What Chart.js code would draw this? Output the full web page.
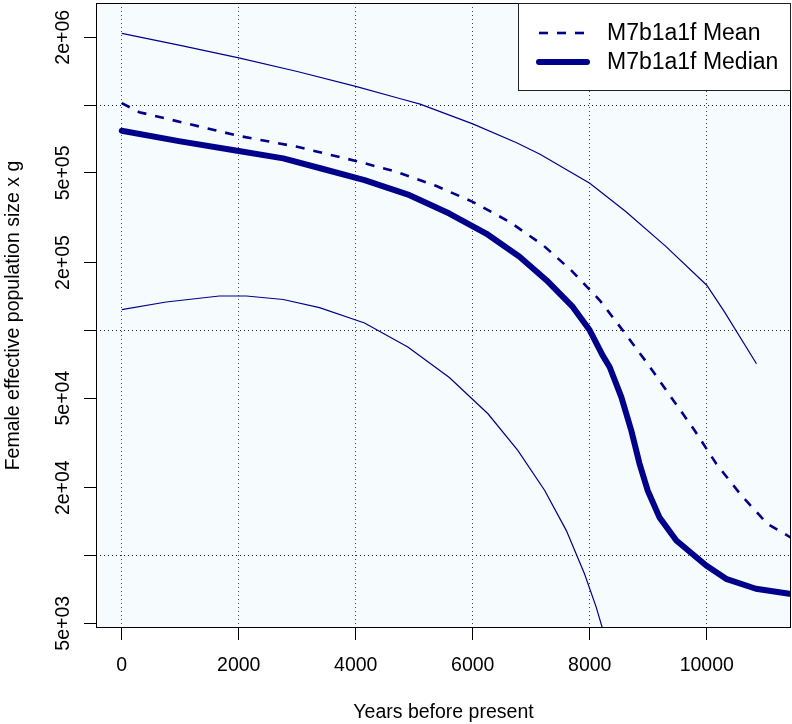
<!DOCTYPE html>
<html>
<head>
<meta charset="utf-8">
<script src="https://cdn.jsdelivr.net/npm/chart.js@4.4.1/dist/chart.umd.min.js"></script>
<style>
  html, body { margin: 0; padding: 0; background: #fff; }
  #c { display: block; }
</style>
</head>
<body>
<canvas id="c" width="792" height="724"></canvas>
<script>
// years before present / female Ne x g
const upperYears  = [0, 1000, 2000, 3000, 4000, 4750, 5100, 6000, 6750, 7150, 8000, 8620, 9300, 10000, 10300, 10850]
const upperNe     = [2.08e6, 1.84e6, 1.62e6, 1.41e6, 1.21e6, 1.07e6, 1.01e6, 8.25e5, 6.8e5, 6.05e5, 4.5e5, 3.36e5, 2.36e5, 1.585e5, 1.21e5, 7.1e4]

const lowerYears  = [0, 760, 1670, 2130, 2760, 3380, 4150, 4890, 5600, 6260, 6770, 7230, 7600, 7910, 8110, 8220, 8300]
const lowerNe     = [1.236e5, 1.336e5, 1.42e5, 1.42e5, 1.37e5, 1.26e5, 1.078e5, 8.43e4, 6.17e4, 4.26e4, 2.93e4, 1.945e4, 1.29e4, 8.3e3, 5.9e3, 4.72e3, 4.2e3]

const meanYears   = [0, 300, 2000, 3000, 4000, 4700, 5380, 6000, 6630, 7200, 7680, 8170, 8590, 8990, 9390, 9790, 10160, 10590, 11040, 11440]
const meanNe      = [1.02e6, 9.3e5, 7.3e5, 6.53e5, 5.65e5, 5.05e5, 4.37e5, 3.72e5, 3.03e5, 2.39e5, 1.85e5, 1.36e5, 9.8e4, 7.1e4, 5.05e4, 3.6e4, 2.56e4, 1.85e4, 1.38e4, 1.2e4]

const medianYears = [0, 1000, 2000, 2760, 3410, 4150, 4920, 5600, 6230, 6800, 7260, 7710, 8000, 8220, 8340, 8540, 8710, 8850, 8990, 9190, 9480, 9990, 10330, 10840, 11410]
const medianNe    = [7.69e5, 6.9e5, 6.25e5, 5.8e5, 5.23e5, 4.64e5, 3.98e5, 3.3e5, 2.69e5, 2.12e5, 1.67e5, 1.27e5, 1.0e5, 7.74e4, 6.87e4, 5.05e4, 3.59e4, 2.56e4, 1.945e4, 1.48e4, 1.166e4, 9.03e3, 7.88e3, 7.12e3, 6.76e3]

const xTicks  = [0, 2000, 4000, 6000, 8000, 10000]
const yTicks  = [5e3, 1e4, 2e4, 5e4, 1e5, 2e5, 5e5, 1e6, 2e6]
const yLabels = ['5e+03', '', '2e+04', '5e+04', '', '2e+05', '5e+05', '', '2e+06']
const legendLabels = ['M7b1a1f Mean', 'M7b1a1f Median']

const BLUE = '#00008b'
const FONT = "'Liberation Sans', Arial, Helvetica, sans-serif"

const pts = (xs, ys) => xs.map((x, i) => ({ x, y: ys[i] }))
const isDecade = v => Math.abs(Math.log10(v) - Math.round(Math.log10(v))) < 1e-9

const thin = (data) => ({ data, borderColor: BLUE, borderWidth: 1.2, pointRadius: 0, tension: 0, clip: 0 })

const datasets = [
  thin(pts(upperYears, upperNe)),
  thin(pts(lowerYears, lowerNe)),
  { label: legendLabels[0], data: pts(meanYears, meanNe), borderColor: BLUE, borderWidth: 2.6, borderDash: [9, 9], pointRadius: 0, tension: 0, clip: 0 },
  { label: legendLabels[1], data: pts(medianYears, medianNe), borderColor: BLUE, borderWidth: 6, borderJoinStyle: 'round', borderCapStyle: 'round', pointRadius: 0, tension: 0, clip: 0 },
]

const frame = {
  id: 'frame',
  beforeDraw(chart) {
    const { ctx, chartArea: a } = chart
    ctx.save()
    ctx.fillStyle = '#f6fbfd'
    ctx.fillRect(a.left, a.top, a.right - a.left, a.bottom - a.top)
    ctx.restore()
  },
  afterDraw(chart) {
    const { ctx, chartArea: a } = chart
    ctx.save()
    ctx.strokeStyle = '#000'
    ctx.lineWidth = 1
    ctx.strokeRect(a.left + 0.5, a.top + 0.5, a.right - a.left - 1, a.bottom - a.top - 1)

    // legend box, top right
    const bx = a.right - 273, by = a.top
    ctx.fillStyle = '#fff'
    ctx.fillRect(bx, by, 273, 87)
    ctx.strokeStyle = '#222'
    ctx.strokeRect(bx + 0.5, by + 0.5, 272, 87)
    const rows = [by + 30, by + 59]
    const styles = [datasets[2], datasets[3]]
    styles.forEach((d, i) => {
      ctx.beginPath()
      ctx.strokeStyle = d.borderColor
      ctx.lineWidth = d.borderWidth
      ctx.lineCap = d.borderCapStyle || 'butt'
      ctx.setLineDash(d.borderDash || [])
      ctx.moveTo(bx + 21, rows[i])
      ctx.lineTo(bx + 69, rows[i])
      ctx.stroke()
      ctx.setLineDash([])
      ctx.fillStyle = '#000'
      ctx.font = `23px ${FONT}`
      ctx.textBaseline = 'middle'
      ctx.textAlign = 'left'
      ctx.fillText(legendLabels[i], bx + 89, rows[i] + 1)
    })
    ctx.restore()
  }
}

new Chart(document.getElementById('c'), {
  type: 'line',
  data: { datasets },
  plugins: [frame],
  options: {
    responsive: false,
    animation: false,
    layout: { padding: { top: 3, right: 1, left: 0, bottom: 0 } },
    plugins: { legend: { display: false }, tooltip: { enabled: false } },
    scales: {
      x: {
        type: 'linear',
        min: -440,
        max: 11440,
        afterBuildTicks: s => { s.ticks = xTicks.map(v => ({ value: v })) },
        afterFit: s => { s.height = 96; s.paddingLeft = 0; s.paddingRight = 0 },
        ticks: {
          autoSkip: false, color: '#000', font: { family: FONT, size: 19.5 }, padding: 14, maxRotation: 0,
          callback: v => String(v)
        },
        grid: { color: '#444', lineWidth: 1, tickColor: '#000', tickLength: 12, tickBorderDash: [] },
        border: { display: false, dash: [1, 3] },
        title: { display: true, text: 'Years before present', color: '#000', font: { family: FONT, size: 19.5 }, padding: { top: 0, bottom: 0 } }
      },
      y: {
        type: 'logarithmic',
        min: 4766,
        max: 2.84e6,
        afterBuildTicks: s => { s.ticks = yTicks.map(v => ({ value: v })) },
        afterFit: s => { s.width = 96; s.paddingTop = 0; s.paddingBottom = 0 },
        ticks: {
          autoSkip: false, color: '#000', font: { family: FONT, size: 19.5 },
          minRotation: 90, maxRotation: 90, crossAlign: 'center', padding: -7,
          callback: (v) => { const i = yTicks.indexOf(v); return i >= 0 ? yLabels[i] : '' }
        },
        grid: {
          color: c => (c.tick && isDecade(c.tick.value)) ? '#222' : 'rgba(0,0,0,0)',
          lineWidth: 1, tickColor: '#000', tickLength: 12, tickBorderDash: []
        },
        border: { display: false, dash: [1, 3] },
        title: { display: true, text: 'Female effective population size x g', color: '#000', font: { family: FONT, size: 19.5 }, padding: { top: 2, bottom: 0 } }
      }
    }
  }
})
</script>
</body>
</html>
